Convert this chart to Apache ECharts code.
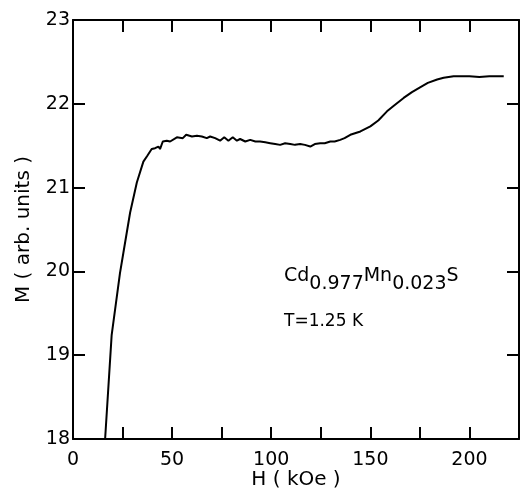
<!DOCTYPE html>
<html>
<head>
<meta charset="utf-8">
<script src="https://cdn.jsdelivr.net/npm/echarts@6/dist/echarts.min.js"></script>
<style>
  html, body { margin: 0; padding: 0; background: #fff; }
  #chart { width: 520px; height: 491px; }
</style>
</head>
<body>
<div id="chart"></div>
<script>
// field H (kOe) and magnetization M (arb. units)
const fieldH = [16.2, 19.5, 23.7, 25.4, 28.8, 32.2, 35.5, 37.5, 39.7, 41.4, 42.3, 43.1, 43.9, 45.3, 47.3, 49, 52.4, 55.4, 57.1, 60, 62.5, 65, 67.5, 69.2, 71.7, 74.2, 76.3, 78.4, 80.6, 82.7, 84.3, 86.9, 89.4, 92, 94.4, 97, 99.5, 102, 104.5, 107, 109.6, 112, 114.6, 117, 119.7, 122, 124.7, 127, 129.8, 132, 134.8, 137, 139.9, 145, 150, 154, 158.4, 162, 166.8, 171, 175.3, 179, 183.7, 187, 192, 200, 205, 210, 217.3];
const magM = [18.0, 19.24, 19.98, 20.22, 20.7, 21.06, 21.31, 21.38, 21.46, 21.47, 21.45, 21.49, 21.46, 21.55, 21.56, 21.55, 21.6, 21.59, 21.63, 21.61, 21.62, 21.61, 21.59, 21.61, 21.59, 21.56, 21.6, 21.56, 21.6, 21.56, 21.58, 21.55, 21.57, 21.55, 21.55, 21.54, 21.53, 21.52, 21.51, 21.53, 21.52, 21.51, 21.52, 21.51, 21.49, 21.52, 21.53, 21.53, 21.55, 21.55, 21.57, 21.59, 21.63, 21.67, 21.73, 21.8, 21.91, 21.98, 22.07, 22.14, 22.2, 22.25, 22.29, 22.31, 22.33, 22.33, 22.32, 22.33, 22.33];
const xLabels = [0, 50, 100, 150, 200];

const chart = echarts.init(document.getElementById('chart'));
const font = 'DejaVu Sans';

const axisBase = {
  axisLine: { show: true, onZero: false, lineStyle: { color: '#000', width: 2 } },
  axisTick: { show: true, inside: true, length: 12, lineStyle: { color: '#000', width: 2 } },
  splitLine: { show: false }
};

chart.setOption({
  animation: false,
  grid: { left: 73, right: 1, top: 20, bottom: 52, outerBoundsMode: 'none' },
  xAxis: [
    Object.assign({}, axisBase, {
      type: 'value', min: 0, max: 225, interval: 25, position: 'bottom',
      axisLabel: {
        color: '#000', fontFamily: font, fontSize: 19, margin: 12,
        formatter: v => (xLabels.includes(v) ? String(v) : '')
      },
      name: 'H ( kOe )', nameLocation: 'middle', nameGap: 31, nameMoveOverlap: false,
      nameTextStyle: { color: '#000', fontFamily: font, fontSize: 20 }
    }),
    Object.assign({}, axisBase, {
      type: 'value', min: 0, max: 225, interval: 25, position: 'top',
      axisLabel: { show: false }
    })
  ],
  yAxis: [
    Object.assign({}, axisBase, {
      type: 'value', min: 18, max: 23, interval: 1, position: 'left',
      axisLabel: { color: '#000', fontFamily: font, fontSize: 19, margin: 3 },
      name: 'M ( arb. units )', nameLocation: 'middle', nameGap: 39, nameMoveOverlap: false,
      nameTextStyle: { color: '#000', fontFamily: font, fontSize: 20 }
    }),
    Object.assign({}, axisBase, {
      type: 'value', min: 18, max: 23, interval: 1, position: 'right',
      axisLabel: { show: false }
    })
  ],
  graphic: [
    {
      type: 'text', left: 284, top: 267,
      style: {
        text: '{n|Cd}{s|0.977}{n|Mn}{s|0.023}{n|S}',
        rich: {
          n: { fontFamily: font, fontSize: 19, fill: '#000', verticalAlign: 'top', padding: [0, 0, 8, 0] },
          s: { fontFamily: font, fontSize: 19, fill: '#000', verticalAlign: 'bottom', padding: [8, 0, 0, 0] }
        }
      }
    },
    {
      type: 'text', left: 284, top: 313,
      style: { text: 'T=1.25 K', fontFamily: font, fontSize: 17, fill: '#000' }
    }
  ],
  series: [{
    type: 'line',
    data: fieldH.map((h, i) => [h, magM[i]]),
    showSymbol: false,
    clip: true,
    lineStyle: { color: '#000', width: 2 }
  }]
});
</script>
</body>
</html>
